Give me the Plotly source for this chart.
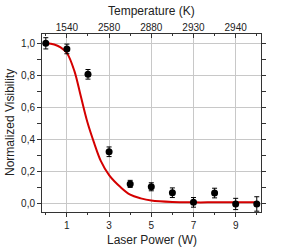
import plotly.graph_objects as go

power = [0, 1, 2, 3, 4, 5, 6, 7, 8, 9, 10]
visibility = [1.0, 0.965, 0.807, 0.325, 0.125, 0.107, 0.07, 0.01, 0.068, 0.0, 0.0]
vis_err = [0.035, 0.03, 0.03, 0.03, 0.022, 0.025, 0.03, 0.03, 0.03, 0.035, 0.045]

fit_x = [0, 0.4, 0.7, 1.0, 1.35, 1.66, 1.97, 2.29, 2.6, 3.0, 3.55, 4.0, 4.5, 5.0, 6.0, 7.0, 8.0, 9.0, 10.0]
fit_y = [1.0, 0.993, 0.975, 0.94, 0.83, 0.67, 0.51, 0.38, 0.27, 0.18, 0.104, 0.058, 0.035, 0.021, 0.012, 0.01, 0.01, 0.01, 0.01]

x_ticks = [1, 3, 5, 7, 9]
temp_labels = ["1540", "2580", "2880", "2930", "2940"]
y_ticks = [0.0, 0.2, 0.4, 0.6, 0.8, 1.0]
y_labels = ["0,0", "0,2", "0,4", "0,6", "0,8", "1,0"]

font = "Liberation Sans, Arial, sans-serif"
xr = [-0.18, 10.2]
tick_font = dict(size=10, color="#222")
title_font = dict(size=12, color="#222", family=font)

fig = go.Figure()
fig.add_trace(go.Scatter(x=fit_x, y=fit_y, mode="lines", line=dict(color="#d40000", width=2, shape="spline"),
                         showlegend=False))
fig.add_trace(go.Scatter(x=power, y=visibility, mode="markers",
                         marker=dict(color="black", size=7),
                         error_y=dict(type="data", array=vis_err, color="black", thickness=1, width=2.5),
                         showlegend=False))
fig.add_trace(go.Scatter(x=[None], y=[None], xaxis="x2", showlegend=False))

fig.update_layout(
    width=281, height=247,
    margin=dict(l=42, r=20, t=34, b=35),
    plot_bgcolor="white", paper_bgcolor="white",
    font=dict(family=font, size=11, color="#222"),
    xaxis=dict(range=xr, tickvals=x_ticks, ticktext=[str(v) for v in x_ticks], automargin=False,
               tickfont=tick_font,
               showgrid=True, gridcolor="#c8c8c8", gridwidth=1,
               showline=True, linecolor="#333", linewidth=1, mirror=True,
               ticks="outside", ticklen=4, tickcolor="#333",
               minor=dict(tickvals=[0, 2, 4, 6, 8, 10], ticks="outside", ticklen=2, tickcolor="#333", showgrid=False),
               zeroline=False),
    xaxis2=dict(range=xr, overlaying="x", side="top", tickvals=x_ticks, ticktext=temp_labels, automargin=False,
                tickfont=tick_font,
                showgrid=False, ticks="inside", ticklen=4, tickcolor="#333",
                minor=dict(tickvals=[0, 2, 4, 6, 8, 10], ticks="inside", ticklen=2, tickcolor="#333"),
                zeroline=False),
    yaxis=dict(range=[-0.05, 1.058], tickvals=y_ticks, ticktext=y_labels, automargin=False,
               tickfont=tick_font,
               showgrid=True, gridcolor="#c8c8c8", gridwidth=1,
               showline=True, linecolor="#333", linewidth=1, mirror="allticks",
               ticks="outside", ticklen=4, tickcolor="#333",
               minor=dict(dtick=0.1, tick0=0, ticks="outside", ticklen=2, tickcolor="#333", showgrid=False),
               zeroline=False),
    annotations=[
        dict(text="Temperature (K)", xref="paper", yref="paper", x=0.5, y=1, yshift=23,
             xanchor="center", yanchor="middle", showarrow=False, font=title_font),
        dict(text="Laser Power (W)", xref="paper", yref="paper", x=0.5, y=0, yshift=-28,
             xanchor="center", yanchor="middle", showarrow=False, font=title_font),
        dict(text="Normalized Visibility", xref="paper", yref="paper", x=0, y=0.5, xshift=-32,
             xanchor="center", yanchor="middle", textangle=-90, showarrow=False, font=title_font),
    ],
)

fig.write_html("out.html", config={"displayModeBar": False},
               post_script="document.body.style.margin='0';")
